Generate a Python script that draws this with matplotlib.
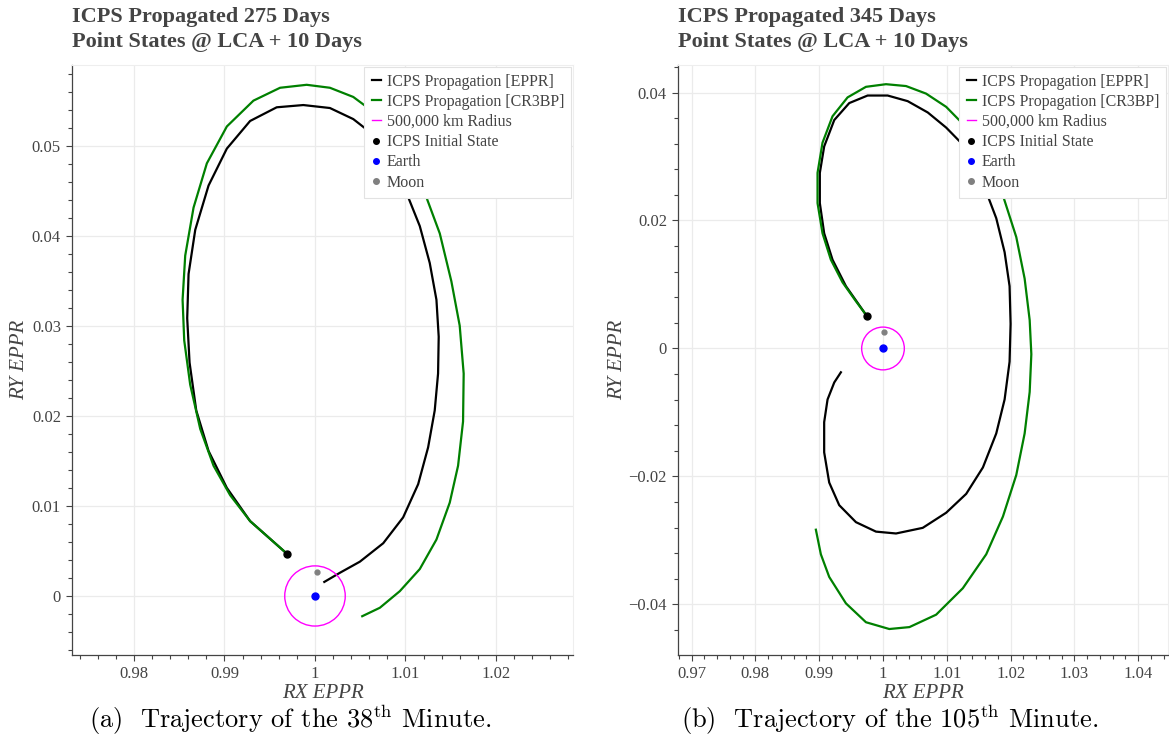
import numpy as np
import matplotlib
matplotlib.use('Agg')
import matplotlib.pyplot as plt
from matplotlib.lines import Line2D
from matplotlib.patches import Circle
from matplotlib.ticker import MultipleLocator, FuncFormatter

plt.rcParams['font.family'] = ['Liberation Serif', 'DejaVu Serif']
plt.rcParams['mathtext.fontset'] = 'cm'

# ---- panel (a): 275 days ----
a_eppr_x = [0.99688, 0.99467, 0.99283, 0.99026, 0.98824, 0.98688, 0.98614, 0.98588, 0.98603,
            0.98677, 0.98824, 0.99026, 0.99283, 0.99577, 0.99871, 1.00165, 1.00423, 1.00607,
            1.00790, 1.00919, 1.01011, 1.01158, 1.01268, 1.01342, 1.01367, 1.01360, 1.01323,
            1.01250, 1.01140, 1.00974, 1.00754, 1.00496, 1.00276, 1.00103]
a_eppr_y = [0.00471, 0.00668, 0.00832, 0.01201, 0.01611, 0.02061, 0.02594, 0.03086, 0.03578,
            0.04069, 0.04561, 0.04971, 0.05278, 0.05430, 0.05455, 0.05422, 0.05299, 0.05155,
            0.04930, 0.04705, 0.04479, 0.04110, 0.03700, 0.03291, 0.02881, 0.02471, 0.02061,
            0.01651, 0.01242, 0.00873, 0.00586, 0.00381, 0.00258, 0.00156]
a_cr3bp_x = [0.99688, 0.99467, 0.99283, 0.99063, 0.98879, 0.98732, 0.98621, 0.98555, 0.98537,
             0.98566, 0.98658, 0.98805, 0.99026, 0.99320, 0.99614, 0.99908, 1.00165, 1.00423,
             1.00643, 1.00864, 1.01048, 1.01213, 1.01379, 1.01507, 1.01599, 1.01643, 1.01636,
             1.01581, 1.01489, 1.01342, 1.01158, 1.00937, 1.00717, 1.00522]
a_cr3bp_y = [0.00471, 0.00668, 0.00832, 0.01119, 0.01447, 0.01856, 0.02348, 0.02840, 0.03291,
             0.03782, 0.04315, 0.04807, 0.05217, 0.05504, 0.05647, 0.05680, 0.05647, 0.05545,
             0.05381, 0.05135, 0.04807, 0.04479, 0.04028, 0.03496, 0.03004, 0.02471, 0.01938,
             0.01447, 0.01037, 0.00627, 0.00299, 0.00053, -0.00131, -0.00225]

# ---- panel (b): 345 days ----
b_eppr_x = [0.99743, 0.99419, 0.99209, 0.99078, 0.99010, 0.99010, 0.99078, 0.99236, 0.99471,
            0.99759, 1.00073, 1.00387, 1.00702, 1.00990, 1.01251, 1.01461, 1.01618, 1.01775,
            1.01906, 1.01984, 1.02000, 1.01984, 1.01906, 1.01775, 1.01566, 1.01304, 1.00990,
            1.00623, 1.00204, 0.99890, 0.99576, 0.99314, 0.99157, 0.99078, 0.99078, 0.99131,
            0.99236, 0.99340]
b_eppr_y = [0.00513, 0.00974, 0.01387, 0.01800, 0.02272, 0.02744, 0.03157, 0.03570, 0.03835,
            0.03953, 0.03953, 0.03865, 0.03688, 0.03452, 0.03186, 0.02832, 0.02449, 0.02036,
            0.01505, 0.00974, 0.00384, -0.00207, -0.00797, -0.01328, -0.01859, -0.02272,
            -0.02567, -0.02803, -0.02891, -0.02862, -0.02714, -0.02449, -0.02095, -0.01623,
            -0.01151, -0.00797, -0.00531, -0.00372]
b_cr3bp_x = [0.99743, 0.99576, 0.99366, 0.99183, 0.99052, 0.98974, 0.98974, 0.99052, 0.99209,
             0.99445, 0.99733, 1.00047, 1.00361, 1.00675, 1.00990, 1.01251, 1.01487, 1.01696,
             1.01880, 1.02089, 1.02220, 1.02299, 1.02325, 1.02299, 1.02220, 1.02089, 1.01880,
             1.01618, 1.01251, 1.00833, 1.00414, 1.00099, 0.99733, 0.99419, 0.99157, 0.99026,
             0.98948]
b_cr3bp_y = [0.00513, 0.00738, 0.01033, 0.01387, 0.01800, 0.02272, 0.02744, 0.03216, 0.03629,
             0.03924, 0.04089, 0.04130, 0.04101, 0.03983, 0.03776, 0.03511, 0.03186, 0.02803,
             0.02390, 0.01741, 0.01092, 0.00443, -0.00089, -0.00679, -0.01328, -0.01977,
             -0.02626, -0.03216, -0.03747, -0.04160, -0.04354, -0.04384, -0.04278, -0.03983,
             -0.03570, -0.03216, -0.02832]

# point states
init_a = (0.99688, 0.00471)
init_b = (0.99743, 0.00513)
earth = (1.0, 0.0)
moon_a = (1.00022, 0.00266)
moon_b = (1.00021, 0.00265)
radius_au = 500000 / 149597870.7

titles = ['ICPS Propagated 275 Days\nPoint States @ LCA + 10 Days',
          'ICPS Propagated 345 Days\nPoint States @ LCA + 10 Days']
captions = [r'(a)  Trajectory of the 38$^{\mathrm{th}}$ Minute.',
            r'(b)  Trajectory of the 105$^{\mathrm{th}}$ Minute.']
legend_labels = ['ICPS Propagation [EPPR]', 'ICPS Propagation [CR3BP]', '500,000 km Radius',
                 'ICPS Initial State', 'Earth', 'Moon']

txt = '#444444'
W, H = 1169, 747
fig = plt.figure(figsize=(W / 100, H / 100), dpi=100)

panels = [
    dict(rect=[72 / W, 1 - 655 / H, (573 - 72) / W, 590 / H], xlim=(0.97315, 1.02851),
         ylim=(-0.00656, 0.0590), xmaj=0.01, ymaj=0.01, ymin=0.002, ylab_x=-0.085,
         ex=a_eppr_x, ey=a_eppr_y, cx=a_cr3bp_x, cy=a_cr3bp_y, init=init_a, moon=moon_a, capx=290),
    dict(rect=[678 / W, 1 - 655 / H, (1168 - 678) / W, 590 / H], xlim=(0.96787, 1.04467),
         ylim=(-0.0479, 0.0443), xmaj=0.01, ymaj=0.02, ymin=0.004, ylab_x=-0.103,
         ex=b_eppr_x, ey=b_eppr_y, cx=b_cr3bp_x, cy=b_cr3bp_y, init=init_b, moon=moon_b, capx=890),
]


def fmt(v, pos):
    s = '{:g}'.format(round(v, 6))
    return s.replace('-', '\u2212')


for i, p in enumerate(panels):
    ax = fig.add_axes(p['rect'])
    ax.set_axisbelow(True)
    ax.plot(p['ex'], p['ey'], color='black', lw=1.6, zorder=3, solid_joinstyle='round')
    ax.plot(p['cx'], p['cy'], color='green', lw=1.6, zorder=4, solid_joinstyle='round')
    ax.add_patch(Circle(earth, radius_au, fill=False, edgecolor='magenta', lw=1.0, zorder=5))
    ax.plot(*p['init'], 'o', color='black', ms=5, zorder=6)
    ax.plot(*earth, 'o', color='blue', ms=5, zorder=6)
    ax.plot(*p['moon'], 'o', color='gray', ms=3.5, zorder=6)

    ax.set_xlim(p['xlim'])
    ax.set_ylim(p['ylim'])
    ax.xaxis.set_major_locator(MultipleLocator(p['xmaj']))
    ax.xaxis.set_minor_locator(MultipleLocator(0.002))
    ax.yaxis.set_major_locator(MultipleLocator(p['ymaj']))
    ax.yaxis.set_minor_locator(MultipleLocator(p['ymin']))
    ax.xaxis.set_major_formatter(FuncFormatter(fmt))
    ax.yaxis.set_major_formatter(FuncFormatter(fmt))
    ax.grid(True, which='major', color='#ebebeb', lw=0.9)
    ax.tick_params(which='both', direction='out', colors=txt, labelsize=12, width=0.8)
    ax.tick_params(which='major', length=4, pad=4)
    ax.tick_params(which='minor', length=3)
    for s in ['left', 'bottom']:
        ax.spines[s].set_color(txt)
        ax.spines[s].set_linewidth(0.9)
    for s in ['top', 'right']:
        ax.spines[s].set_color('#eeeeee')
        ax.spines[s].set_linewidth(0.8)

    ax.set_xlabel('RX EPPR', fontsize=15, style='italic', color=txt, labelpad=1)
    ax.set_ylabel('RY EPPR', fontsize=15, style='italic', color=txt)
    ax.yaxis.set_label_coords(p['ylab_x'], 0.5)

    handles = [Line2D([], [], color='black', lw=1.6),
               Line2D([], [], color='green', lw=1.6),
               Line2D([], [], color='magenta', lw=1.0),
               Line2D([], [], marker='o', ls='', color='black', ms=4),
               Line2D([], [], marker='o', ls='', color='blue', ms=4),
               Line2D([], [], marker='o', ls='', color='gray', ms=4)]
    leg = ax.legend(handles, legend_labels, loc='upper right', fontsize=11.5, frameon=True,
                    fancybox=False, framealpha=1, edgecolor='#e2e2e2', handlelength=0.6,
                    handletextpad=0.35, labelspacing=0.26, borderpad=0.45, borderaxespad=0.1)
    leg.get_frame().set_linewidth(0.8)
    leg.set_zorder(10)
    for t in leg.get_texts():
        t.set_color(txt)

    fig.text(p['rect'][0], 1 - 7 / H, titles[i], ha='left', va='top', fontsize=16,
             fontweight='bold', color=txt, linespacing=1.3)
    fig.text(p['capx'] / W, 1 - 720 / H, captions[i], ha='center', va='center',
             fontsize=19, family='cmr10', color='black')

fig.savefig('out.png', dpi=100)
